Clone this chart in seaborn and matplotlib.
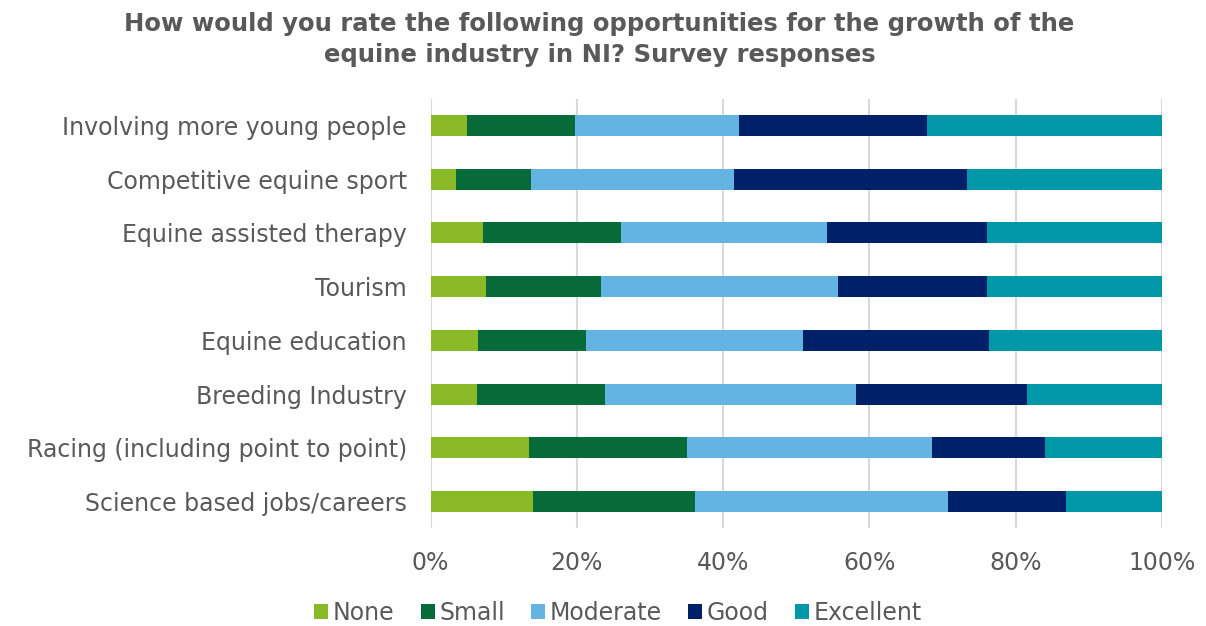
import numpy as np
import pandas as pd
import matplotlib
matplotlib.use("Agg")
import matplotlib.pyplot as plt
import seaborn as sns
from matplotlib.patches import Patch

# Survey data: share of responses (%) per opportunity
categories = [
    "Involving more young people",
    "Competitive equine sport",
    "Equine assisted therapy",
    "Tourism",
    "Equine education",
    "Breeding Industry",
    "Racing (including point to point)",
    "Science based jobs/careers",
]
levels = ["None", "Small", "Moderate", "Good", "Excellent"]
none_pct = [5.0, 3.5, 7.2, 7.6, 6.5, 6.4, 13.5, 14.0]
small_pct = [14.8, 10.2, 18.8, 15.7, 14.8, 17.5, 21.5, 22.2]
moderate_pct = [22.4, 27.8, 28.2, 32.4, 29.6, 34.3, 33.5, 34.6]
good_pct = [25.7, 31.9, 21.9, 20.4, 25.5, 23.3, 15.5, 16.1]
excellent_pct = [32.1, 26.6, 23.9, 23.9, 23.6, 18.5, 16.0, 13.1]
colors = ["#8aba28", "#066b38", "#63b3e3", "#002169", "#0097a8"]

sns.set_theme(style="white")
plt.rcParams["font.family"] = ["DejaVu Sans"]
text_color = "#595959"

df = pd.DataFrame(
    {"category": categories, "None": none_pct, "Small": small_pct,
     "Moderate": moderate_pct, "Good": good_pct, "Excellent": excellent_pct}
)
# Normalise each row to 100% and build cumulative totals for stacking
totals = df[levels].sum(axis=1)
for lv in levels:
    df[lv] = df[lv] / totals * 100
cum = df[levels].cumsum(axis=1)

fig = plt.figure(figsize=(12.06, 6.26), dpi=100)
ax = fig.add_axes([0.357, 0.156, 0.6065, 0.6865])

# Draw the widest cumulative bar first so narrower ones sit on top
for lv, col in reversed(list(zip(levels, colors))):
    sns.barplot(x=cum[lv], y=df["category"], order=categories, orient="h",
                color=col, width=0.39, ax=ax, saturation=1, linewidth=0)

ax.set_xlim(0, 100)
ax.set_xticks(np.arange(0, 101, 20))
ax.set_xticklabels([f"{v}%" for v in range(0, 101, 20)])
ax.set_xlabel("")
ax.set_ylabel("")
ax.grid(axis="x", color="#d9d9d9", linewidth=1.5)
ax.grid(axis="y", visible=False)
ax.set_axisbelow(True)
for s in ax.spines.values():
    s.set_visible(False)
ax.tick_params(axis="x", length=0, pad=16, labelsize=17, labelcolor=text_color)
ax.tick_params(axis="y", length=0, pad=17, labelsize=17, labelcolor=text_color)

fig.suptitle("How would you rate the following opportunities for the growth of the\n"
             "equine industry in NI? Survey responses",
             x=0.497, y=0.981, fontsize=17.5, fontweight="bold", color=text_color,
             linespacing=1.37)

handles = [Patch(facecolor=c, edgecolor="none") for c in colors]
fig.legend(handles, levels, loc="center", bbox_to_anchor=(0.5125, 0.021),
           ncol=5, frameon=False, fontsize=17, labelcolor=text_color,
           handlelength=0.6, handleheight=0.6, handletextpad=0.2,
           columnspacing=1.1)

fig.savefig("out.png", dpi=100)
